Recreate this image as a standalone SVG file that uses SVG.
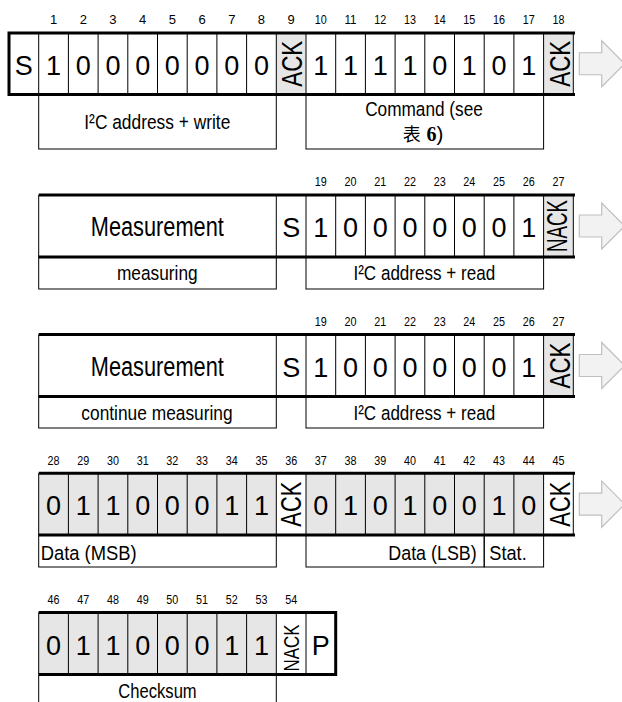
<svg xmlns="http://www.w3.org/2000/svg" width="622" height="702" viewBox="0 0 622 702">
<style>
.t{font-family:"Liberation Sans Narrow","Arial Narrow","Liberation Sans",Arial,sans-serif;fill:#000}
.r{font-family:"Liberation Sans",Arial,sans-serif;fill:#000}
.num{font-size:13px;text-anchor:middle}
.big{font-size:27px;text-anchor:middle}
.ack{font-size:30px;text-anchor:middle}
.lbl{font-size:20.5px}
.mid{text-anchor:middle}
.thin{stroke:#000;stroke-width:1;fill:none}
.thick{stroke:#000;stroke-width:3;fill:none;stroke-linejoin:miter}
.g{fill:#e6e6e6;stroke:none}
.arrow{fill:#f2f2f2;stroke:#bfbfbf;stroke-width:1.2}
</style>
<rect width="622" height="702" fill="#fff"/>

<!-- Frame 1: write -->
<g id="frame1">
  <rect class="g" x="276.3" y="33" width="29.7" height="61.5"/>
  <rect class="g" x="543.6" y="33" width="29.7" height="61.5"/>
  <path class="thin" d="M38.7,33V94.5M68.4,33V94.5M98.1,33V94.5M127.8,33V94.5M157.5,33V94.5M187.2,33V94.5M216.9,33V94.5M246.6,33V94.5M276.3,33V94.5M306,33V94.5M335.7,33V94.5M365.4,33V94.5M395.1,33V94.5M424.8,33V94.5M454.5,33V94.5M484.2,33V94.5M513.9,33V94.5M543.6,33V94.5M573.3,33V94.5"/>
  <polyline class="thick" points="575,33 9,33 9,94.5 575,94.5"/>
  <g class="r num">
    <text x="53.55" y="24">1</text><text x="83.25" y="24">2</text><text x="112.95" y="24">3</text><text x="142.65" y="24">4</text><text x="172.35" y="24">5</text><text x="202.05" y="24">6</text><text x="231.75" y="24">7</text><text x="261.45" y="24">8</text><text x="291.15" y="24">9</text>
    <text x="320.85" y="24" textLength="12" lengthAdjust="spacingAndGlyphs">10</text><text x="350.55" y="24" textLength="12" lengthAdjust="spacingAndGlyphs">11</text><text x="380.25" y="24" textLength="12" lengthAdjust="spacingAndGlyphs">12</text><text x="409.95" y="24" textLength="12" lengthAdjust="spacingAndGlyphs">13</text><text x="439.65" y="24" textLength="12" lengthAdjust="spacingAndGlyphs">14</text><text x="469.35" y="24" textLength="12" lengthAdjust="spacingAndGlyphs">15</text><text x="499.05" y="24" textLength="12" lengthAdjust="spacingAndGlyphs">16</text><text x="528.75" y="24" textLength="12" lengthAdjust="spacingAndGlyphs">17</text><text x="558.45" y="24" textLength="12" lengthAdjust="spacingAndGlyphs">18</text>
  </g>
  <g class="r big">
    <text x="23.85" y="75">S</text><text x="53.55" y="75">1</text><text x="83.25" y="75">0</text><text x="112.95" y="75">0</text><text x="142.65" y="75">0</text><text x="172.35" y="75">0</text><text x="202.05" y="75">0</text><text x="231.75" y="75">0</text><text x="261.45" y="75">0</text>
    <text x="320.85" y="75">1</text><text x="350.55" y="75">1</text><text x="380.25" y="75">1</text><text x="409.95" y="75">1</text><text x="439.65" y="75">0</text><text x="469.35" y="75">1</text><text x="499.05" y="75">0</text><text x="528.75" y="75">1</text>
  </g>
  <text class="t ack" transform="translate(302,63.75) rotate(-90)" textLength="46" lengthAdjust="spacingAndGlyphs">ACK</text>
  <text class="t ack" transform="translate(570,63.75) rotate(-90)" textLength="46" lengthAdjust="spacingAndGlyphs">ACK</text>
</g>
<g id="label-addr-write">
  <rect class="thin" x="38.7" y="94.5" width="237.6" height="54.5"/>
  <text class="t lbl mid" x="157.3" y="129.3" textLength="146" lengthAdjust="spacingAndGlyphs">I²C address + write</text>
</g>
<g id="label-command">
  <rect class="thin" x="306" y="94.5" width="237.6" height="54.5"/>
  <text class="t lbl mid" x="424" y="116" textLength="117.7" lengthAdjust="spacingAndGlyphs">Command (see</text>
  <text class="t lbl" x="402.7" y="141"><tspan font-family="'Noto Sans CJK SC','Noto Sans CJK JP',sans-serif" font-size="18">表</tspan> <tspan font-family="'Liberation Serif',serif" font-weight="bold" font-size="20">6</tspan>)</text>
</g>

<!-- Frame 2: measurement, read NACK -->
<g id="frame2">
  <rect class="g" x="543.6" y="195" width="29.7" height="62"/>
  <path class="thin" d="M38.7,195V257M276.3,195V257M306,195V257M335.7,195V257M365.4,195V257M395.1,195V257M424.8,195V257M454.5,195V257M484.2,195V257M513.9,195V257M543.6,195V257M573.3,195V257"/>
  <path class="thick" d="M38.7,195H575M38.7,257H575"/>
  <g class="r num">
    <text x="320.85" y="186" textLength="12" lengthAdjust="spacingAndGlyphs">19</text><text x="350.55" y="186" textLength="12" lengthAdjust="spacingAndGlyphs">20</text><text x="380.25" y="186" textLength="12" lengthAdjust="spacingAndGlyphs">21</text><text x="409.95" y="186" textLength="12" lengthAdjust="spacingAndGlyphs">22</text><text x="439.65" y="186" textLength="12" lengthAdjust="spacingAndGlyphs">23</text><text x="469.35" y="186" textLength="12" lengthAdjust="spacingAndGlyphs">24</text><text x="499.05" y="186" textLength="12" lengthAdjust="spacingAndGlyphs">25</text><text x="528.75" y="186" textLength="12" lengthAdjust="spacingAndGlyphs">26</text><text x="558.45" y="186" textLength="12" lengthAdjust="spacingAndGlyphs">27</text>
  </g>
  <text class="t big" x="157.3" y="236" textLength="133" lengthAdjust="spacingAndGlyphs">Measurement</text>
  <g class="r big">
    <text x="291.15" y="237">S</text><text x="320.85" y="237">1</text><text x="350.55" y="237">0</text><text x="380.25" y="237">0</text><text x="409.95" y="237">0</text><text x="439.65" y="237">0</text><text x="469.35" y="237">0</text><text x="499.05" y="237">0</text><text x="528.75" y="237">1</text>
  </g>
  <text class="t" font-size="29" text-anchor="middle" transform="translate(567,226) rotate(-90)" textLength="52" lengthAdjust="spacingAndGlyphs">NACK</text>
</g>
<g id="label-measuring">
  <rect class="thin" x="38.7" y="257" width="237.6" height="32"/>
  <text class="t lbl mid" x="157.3" y="280" textLength="80.7" lengthAdjust="spacingAndGlyphs">measuring</text>
</g>
<g id="label-addr-read-1">
  <rect class="thin" x="306" y="257" width="237.6" height="32"/>
  <text class="t lbl mid" x="424.3" y="280" textLength="141.7" lengthAdjust="spacingAndGlyphs">I²C address + read</text>
</g>

<!-- Frame 3: measurement, read ACK -->
<g id="frame3">
  <rect class="g" x="543.6" y="334.5" width="29.7" height="62"/>
  <path class="thin" d="M38.7,334.5V396.5M276.3,334.5V396.5M306,334.5V396.5M335.7,334.5V396.5M365.4,334.5V396.5M395.1,334.5V396.5M424.8,334.5V396.5M454.5,334.5V396.5M484.2,334.5V396.5M513.9,334.5V396.5M543.6,334.5V396.5M573.3,334.5V396.5"/>
  <path class="thick" d="M38.7,334.5H575M38.7,396.5H575"/>
  <g class="r num">
    <text x="320.85" y="325.5" textLength="12" lengthAdjust="spacingAndGlyphs">19</text><text x="350.55" y="325.5" textLength="12" lengthAdjust="spacingAndGlyphs">20</text><text x="380.25" y="325.5" textLength="12" lengthAdjust="spacingAndGlyphs">21</text><text x="409.95" y="325.5" textLength="12" lengthAdjust="spacingAndGlyphs">22</text><text x="439.65" y="325.5" textLength="12" lengthAdjust="spacingAndGlyphs">23</text><text x="469.35" y="325.5" textLength="12" lengthAdjust="spacingAndGlyphs">24</text><text x="499.05" y="325.5" textLength="12" lengthAdjust="spacingAndGlyphs">25</text><text x="528.75" y="325.5" textLength="12" lengthAdjust="spacingAndGlyphs">26</text><text x="558.45" y="325.5" textLength="12" lengthAdjust="spacingAndGlyphs">27</text>
  </g>
  <text class="t big" x="157.3" y="375.5" textLength="133" lengthAdjust="spacingAndGlyphs">Measurement</text>
  <g class="r big">
    <text x="291.15" y="376.5">S</text><text x="320.85" y="376.5">1</text><text x="350.55" y="376.5">0</text><text x="380.25" y="376.5">0</text><text x="409.95" y="376.5">0</text><text x="439.65" y="376.5">0</text><text x="469.35" y="376.5">0</text><text x="499.05" y="376.5">0</text><text x="528.75" y="376.5">1</text>
  </g>
  <text class="t ack" transform="translate(569.5,365.5) rotate(-90)" textLength="46" lengthAdjust="spacingAndGlyphs">ACK</text>
</g>
<g id="label-continue">
  <rect class="thin" x="38.7" y="396.5" width="237.6" height="31.5"/>
  <text class="t lbl mid" x="157" y="419.5" textLength="151.3" lengthAdjust="spacingAndGlyphs">continue measuring</text>
</g>
<g id="label-addr-read-2">
  <rect class="thin" x="306" y="396.5" width="237.6" height="31.5"/>
  <text class="t lbl mid" x="424.3" y="419.5" textLength="141.7" lengthAdjust="spacingAndGlyphs">I²C address + read</text>
</g>

<!-- Frame 4: data -->
<g id="frame4">
  <rect class="g" x="38.7" y="473.3" width="237.6" height="61.7"/>
  <rect class="g" x="306" y="473.3" width="237.6" height="61.7"/>
  <path class="thin" d="M38.7,473.3V535M68.4,473.3V535M98.1,473.3V535M127.8,473.3V535M157.5,473.3V535M187.2,473.3V535M216.9,473.3V535M246.6,473.3V535M276.3,473.3V535M306,473.3V535M335.7,473.3V535M365.4,473.3V535M395.1,473.3V535M424.8,473.3V535M454.5,473.3V535M484.2,473.3V535M513.9,473.3V535M543.6,473.3V535M573.3,473.3V535"/>
  <path class="thick" d="M38.7,473.3H575M38.7,535H575"/>
  <g class="r num">
    <text x="53.55" y="465" textLength="12" lengthAdjust="spacingAndGlyphs">28</text><text x="83.25" y="465" textLength="12" lengthAdjust="spacingAndGlyphs">29</text><text x="112.95" y="465" textLength="12" lengthAdjust="spacingAndGlyphs">30</text><text x="142.65" y="465" textLength="12" lengthAdjust="spacingAndGlyphs">31</text><text x="172.35" y="465" textLength="12" lengthAdjust="spacingAndGlyphs">32</text><text x="202.05" y="465" textLength="12" lengthAdjust="spacingAndGlyphs">33</text><text x="231.75" y="465" textLength="12" lengthAdjust="spacingAndGlyphs">34</text><text x="261.45" y="465" textLength="12" lengthAdjust="spacingAndGlyphs">35</text><text x="291.15" y="465" textLength="12" lengthAdjust="spacingAndGlyphs">36</text>
    <text x="320.85" y="465" textLength="12" lengthAdjust="spacingAndGlyphs">37</text><text x="350.55" y="465" textLength="12" lengthAdjust="spacingAndGlyphs">38</text><text x="380.25" y="465" textLength="12" lengthAdjust="spacingAndGlyphs">39</text><text x="409.95" y="465" textLength="12" lengthAdjust="spacingAndGlyphs">40</text><text x="439.65" y="465" textLength="12" lengthAdjust="spacingAndGlyphs">41</text><text x="469.35" y="465" textLength="12" lengthAdjust="spacingAndGlyphs">42</text><text x="499.05" y="465" textLength="12" lengthAdjust="spacingAndGlyphs">43</text><text x="528.75" y="465" textLength="12" lengthAdjust="spacingAndGlyphs">44</text><text x="558.45" y="465" textLength="12" lengthAdjust="spacingAndGlyphs">45</text>
  </g>
  <g class="r big">
    <text x="53.55" y="515.3">0</text><text x="83.25" y="515.3">1</text><text x="112.95" y="515.3">1</text><text x="142.65" y="515.3">0</text><text x="172.35" y="515.3">0</text><text x="202.05" y="515.3">0</text><text x="231.75" y="515.3">1</text><text x="261.45" y="515.3">1</text>
    <text x="320.85" y="515.3">0</text><text x="350.55" y="515.3">1</text><text x="380.25" y="515.3">0</text><text x="409.95" y="515.3">1</text><text x="439.65" y="515.3">0</text><text x="469.35" y="515.3">0</text><text x="499.05" y="515.3">1</text><text x="528.75" y="515.3">0</text>
  </g>
  <text class="t ack" transform="translate(301,504.2) rotate(-90)" textLength="45" lengthAdjust="spacingAndGlyphs">ACK</text>
  <text class="t ack" transform="translate(569.5,504.2) rotate(-90)" textLength="45" lengthAdjust="spacingAndGlyphs">ACK</text>
</g>
<g id="label-data-msb">
  <rect class="thin" x="38.7" y="535" width="237.6" height="32"/>
  <text class="t lbl" x="40.7" y="559.5" textLength="96" lengthAdjust="spacingAndGlyphs">Data (MSB)</text>
</g>
<g id="label-data-lsb">
  <rect class="thin" x="306" y="535" width="178.2" height="32"/>
  <text class="t lbl" x="476.7" y="559.5" text-anchor="end" textLength="88.4" lengthAdjust="spacingAndGlyphs">Data (LSB)</text>
</g>
<g id="label-stat">
  <rect class="thin" x="484.2" y="535" width="59.4" height="32"/>
  <text class="t lbl" x="489.3" y="559.5" textLength="37.4" lengthAdjust="spacingAndGlyphs">Stat.</text>
</g>

<!-- Frame 5: checksum -->
<g id="frame5">
  <rect class="g" x="38.7" y="612.5" width="237.6" height="62"/>
  <path class="thin" d="M38.7,612.5V674.5M68.4,612.5V674.5M98.1,612.5V674.5M127.8,612.5V674.5M157.5,612.5V674.5M187.2,612.5V674.5M216.9,612.5V674.5M246.6,612.5V674.5M276.3,612.5V674.5M306,612.5V674.5"/>
  <polyline class="thick" points="38.7,612.5 335.7,612.5 335.7,674.5 38.7,674.5"/>
  <g class="r num">
    <text x="53.55" y="603.5" textLength="12" lengthAdjust="spacingAndGlyphs">46</text><text x="83.25" y="603.5" textLength="12" lengthAdjust="spacingAndGlyphs">47</text><text x="112.95" y="603.5" textLength="12" lengthAdjust="spacingAndGlyphs">48</text><text x="142.65" y="603.5" textLength="12" lengthAdjust="spacingAndGlyphs">49</text><text x="172.35" y="603.5" textLength="12" lengthAdjust="spacingAndGlyphs">50</text><text x="202.05" y="603.5" textLength="12" lengthAdjust="spacingAndGlyphs">51</text><text x="231.75" y="603.5" textLength="12" lengthAdjust="spacingAndGlyphs">52</text><text x="261.45" y="603.5" textLength="12" lengthAdjust="spacingAndGlyphs">53</text><text x="291.15" y="603.5" textLength="12" lengthAdjust="spacingAndGlyphs">54</text>
  </g>
  <g class="r big">
    <text x="53.55" y="654.5">0</text><text x="83.25" y="654.5">1</text><text x="112.95" y="654.5">1</text><text x="142.65" y="654.5">0</text><text x="172.35" y="654.5">0</text><text x="202.05" y="654.5">0</text><text x="231.75" y="654.5">1</text><text x="261.45" y="654.5">1</text>
    <text x="320.85" y="654.5">P</text>
  </g>
  <text class="t" font-size="22" text-anchor="middle" transform="translate(299,648) rotate(-90)" textLength="47" lengthAdjust="spacingAndGlyphs">NACK</text>
</g>
<g id="label-checksum">
  <path class="thin" d="M38.7,712V674.5M276.3,674.5V712"/>
  <text class="t lbl mid" x="157.5" y="698" textLength="78.4" lengthAdjust="spacingAndGlyphs">Checksum</text>
</g>

<!-- connectors: continuation arrows -->
<g id="connectors">
  <polygon class="arrow" points="579.3,52.75 601.7,52.75 601.7,40.75 624.7,63.75 601.7,86.75 601.7,74.75 579.3,74.75"/>
  <polygon class="arrow" points="579.3,215 601.7,215 601.7,203 624.7,226 601.7,249 601.7,237 579.3,237"/>
  <polygon class="arrow" points="579.3,354.5 601.7,354.5 601.7,342.5 624.7,365.5 601.7,388.5 601.7,376.5 579.3,376.5"/>
  <polygon class="arrow" points="579.3,493.2 601.7,493.2 601.7,481.2 624.7,504.2 601.7,527.2 601.7,515.2 579.3,515.2"/>
</g>
</svg>
